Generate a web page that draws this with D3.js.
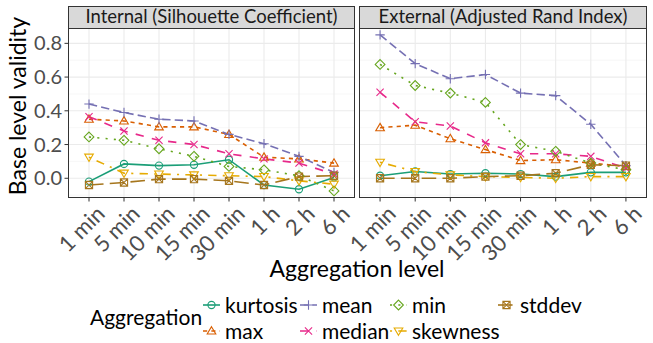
<!DOCTYPE html>
<meta charset="utf-8">
<style>
body { margin: 0; background: #fff; }
text { font-family: Lato, "Open Sans", sans-serif; }
.grid-major { stroke: #EBEBEB; stroke-width: 1.1; }
.grid-minor { stroke: #F2F2F2; stroke-width: 0.6; }
.tick-line { stroke: #333; stroke-width: 1; }
.tick-lab { fill: #4D4D4D; font-size: 20px; }
.xtick-lab { fill: #4D4D4D; font-size: 22px; }
</style>
<svg width="653" height="343"></svg>
<script src="https://cdn.jsdelivr.net/npm/d3@7/dist/d3.min.js"></script>
<script>
var levels = ["1 min", "5 min", "10 min", "15 min", "30 min", "1 h", "2 h", "6 h"];
var panels = ["Internal (Silhouette Coefficient)", "External (Adjusted Rand Index)"];
var series = ["kurtosis", "max", "mean", "median", "min", "skewness", "stddev"];
var colors = ["#1B9E77", "#D95F02", "#7570B3", "#E7298A", "#66A61E", "#E6AB02", "#A6761D"];

// internal (silhouette)
var intKurtosis = [-0.02, 0.085, 0.075, 0.08, 0.11, -0.04, -0.065, 0.005];
var intMax      = [0.35, 0.34, 0.305, 0.305, 0.26, 0.125, 0.115, 0.09];
var intMean     = [0.44, 0.39, 0.35, 0.34, 0.26, 0.205, 0.13, 0.035];
var intMedian   = [0.365, 0.28, 0.225, 0.2, 0.145, 0.115, 0.09, 0.025];
var intMin      = [0.245, 0.225, 0.175, 0.13, 0.07, 0.05, 0.015, -0.075];
var intSkewness = [0.125, 0.03, 0.025, 0.02, 0.015, 0.01, -0.015, -0.035];
var intStddev   = [-0.04, -0.025, -0.005, -0.005, -0.015, -0.04, 0.01, 0.015];

// external (adjusted rand)
var extKurtosis = [0.015, 0.04, 0.025, 0.03, 0.025, 0.01, 0.035, 0.035];
var extMax      = [0.3, 0.315, 0.235, 0.17, 0.105, 0.11, 0.09, 0.07];
var extMean     = [0.85, 0.68, 0.59, 0.615, 0.505, 0.49, 0.32, 0.075];
var extMedian   = [0.51, 0.335, 0.31, 0.21, 0.145, 0.145, 0.13, 0.06];
var extMin      = [0.675, 0.55, 0.505, 0.45, 0.2, 0.16, 0.09, 0.05];
var extSkewness = [0.095, 0.04, 0.02, 0.01, 0.005, 0.0, 0.01, 0.01];
var extStddev   = [0.0, 0.0, 0.0, 0.01, 0.015, 0.03, 0.08, 0.075];

var yTicks = [0, 0.2, 0.4, 0.6, 0.8];
var yMinor = [-0.1, 0.1, 0.3, 0.5, 0.7];

var panelData = [
  [intKurtosis, intMax, intMean, intMedian, intMin, intSkewness, intStddev],
  [extKurtosis, extMax, extMean, extMedian, extMin, extSkewness, extStddev]
];

var lw = 1.6;
var dashes = ["", "22", "42", "44", "13", "1343", "73"].map(function(p) {
  return p === "" ? null : p.split("").map(function(c) { return +c * lw * 1.3; }).join(",");
});

var svg = d3.select("svg");
var pTop = 28, pBottom = 198, stripH = 22;
var panelX = [[68, 355], [359, 647]];

var y = d3.scaleLinear().domain([-0.117, 0.891]).range([pBottom, pTop]);

// shape drawers (ggplot shapes 1..7)
function drawShape(g, k, cx, cy, col) {
  var s = 3.6;
  var st = { stroke: col, "stroke-width": 1.1, fill: "none" };
  function add(tag, attrs) {
    var e = g.append(tag);
    Object.keys(st).forEach(function(a) { e.attr(a, st[a]); });
    Object.keys(attrs).forEach(function(a) { e.attr(a, attrs[a]); });
  }
  if (k === 0) add("circle", { cx: cx, cy: cy, r: s });
  else if (k === 1) add("path", { d: "M" + cx + "," + (cy - s * 1.2) + "L" + (cx + s * 1.2) + "," + (cy + s * 0.85) + "L" + (cx - s * 1.2) + "," + (cy + s * 0.85) + "Z" });
  else if (k === 2) add("path", { d: "M" + (cx - s * 1.3) + "," + cy + "H" + (cx + s * 1.3) + "M" + cx + "," + (cy - s * 1.3) + "V" + (cy + s * 1.3) });
  else if (k === 3) add("path", { d: "M" + (cx - s) + "," + (cy - s) + "L" + (cx + s) + "," + (cy + s) + "M" + (cx - s) + "," + (cy + s) + "L" + (cx + s) + "," + (cy - s) });
  else if (k === 4) add("path", { d: "M" + cx + "," + (cy - s * 1.35) + "L" + (cx + s * 1.35) + "," + cy + "L" + cx + "," + (cy + s * 1.35) + "L" + (cx - s * 1.35) + "," + cy + "Z" });
  else if (k === 5) add("path", { d: "M" + cx + "," + (cy + s * 1.2) + "L" + (cx + s * 1.2) + "," + (cy - s * 0.85) + "L" + (cx - s * 1.2) + "," + (cy - s * 0.85) + "Z" });
  else if (k === 6) add("path", { d: "M" + (cx - s) + "," + (cy - s) + "H" + (cx + s) + "V" + (cy + s) + "H" + (cx - s) + "Z" +
    "M" + (cx - s) + "," + (cy - s) + "L" + (cx + s) + "," + (cy + s) + "M" + (cx - s) + "," + (cy + s) + "L" + (cx + s) + "," + (cy - s) });
}

panels.forEach(function(title, p) {
  var x0 = panelX[p][0], x1 = panelX[p][1];
  var x = d3.scalePoint().domain(levels).range([x0, x1]).padding(0.6);
  var g = svg.append("g");

  // grid
  g.selectAll(".gmin").data(yMinor).enter().append("line").attr("class", "grid-minor")
    .attr("x1", x0).attr("x2", x1).attr("y1", function(d) { return y(d); }).attr("y2", function(d) { return y(d); });
  g.selectAll(".gmaj").data(yTicks).enter().append("line").attr("class", "grid-major")
    .attr("x1", x0).attr("x2", x1).attr("y1", function(d) { return y(d); }).attr("y2", function(d) { return y(d); });
  g.selectAll(".gv").data(levels).enter().append("line").attr("class", "grid-major")
    .attr("x1", function(d) { return x(d); }).attr("x2", function(d) { return x(d); }).attr("y1", pTop).attr("y2", pBottom);

  // lines
  var line = d3.line().x(function(d, i) { return x(levels[i]); }).y(function(d) { return y(d); });
  panelData[p].forEach(function(vals, k) {
    g.append("path").datum(vals).attr("d", line)
      .attr("fill", "none").attr("stroke", colors[k]).attr("stroke-width", lw)
      .attr("stroke-dasharray", dashes[k]);
  });
  // points
  panelData[p].forEach(function(vals, k) {
    vals.forEach(function(v, i) { drawShape(g, k, x(levels[i]), y(v), colors[k]); });
  });

  // border + strip
  g.append("rect").attr("x", x0 + 0.5).attr("y", pTop + 0.5).attr("width", x1 - x0 - 1).attr("height", pBottom - pTop - 1)
    .attr("fill", "none").attr("stroke", "#333").attr("stroke-width", 1);
  g.append("rect").attr("x", x0 + 0.5).attr("y", pTop - stripH + 0.5).attr("width", x1 - x0 - 1).attr("height", stripH)
    .attr("fill", "#D9D9D9").attr("stroke", "#333").attr("stroke-width", 1);
  g.append("text").attr("x", (x0 + x1) / 2).attr("y", pTop - 5).attr("text-anchor", "middle")
    .attr("fill", "#1A1A1A").style("font-size", "18.5px").text(title);

  // x ticks
  g.selectAll(".xt").data(levels).enter().append("line").attr("class", "tick-line")
    .attr("x1", function(d) { return x(d); }).attr("x2", function(d) { return x(d); })
    .attr("y1", pBottom).attr("y2", pBottom + 3.5);
  g.selectAll(".xl").data(levels).enter().append("text").attr("class", "xtick-lab")
    .attr("text-anchor", "end")
    .attr("transform", function(d) { return "translate(" + (x(d) + 6) + "," + (pBottom + 6) + ") rotate(-45)"; })
    .attr("dy", "0.72em")
    .text(function(d) { return d; });
});

// y axis on left panel
var yAxisG = svg.append("g");
yAxisG.selectAll("line").data(yTicks).enter().append("line").attr("class", "tick-line")
  .attr("x1", 64.5).attr("x2", 68).attr("y1", function(d) { return y(d); }).attr("y2", function(d) { return y(d); });
yAxisG.selectAll("text").data(yTicks).enter().append("text").attr("class", "tick-lab")
  .attr("x", 62).attr("y", function(d) { return y(d); }).attr("dy", "0.35em").attr("text-anchor", "end")
  .text(function(d) { return d3.format(".1f")(d); });

// axis titles
svg.append("text").attr("transform", "translate(26," + ((pTop - stripH + pBottom) / 2 + 4) + ") rotate(-90)")
  .attr("text-anchor", "middle").style("font-size", "23px").attr("fill", "#000").text("Base level validity");
svg.append("text").attr("x", 357).attr("y", 277).attr("text-anchor", "middle")
  .style("font-size", "23px").attr("fill", "#000").text("Aggregation level");

// legend
var leg = svg.append("g");
leg.append("text").attr("x", 90).attr("y", 325).style("font-size", "21px").attr("fill", "#000").text("Aggregation");
var colX = [203, 300, 390, 498];
var rowY = [305, 331];
series.forEach(function(name, k) {
  var c = Math.floor(k / 2), r = k % 2;
  var kx = colX[c], ky = rowY[r];
  leg.append("line").attr("x1", kx).attr("x2", kx + 17).attr("y1", ky).attr("y2", ky)
    .attr("stroke", colors[k]).attr("stroke-width", lw).attr("stroke-dasharray", dashes[k]);
  drawShape(leg, k, kx + 8.5, ky, colors[k]);
  leg.append("text").attr("x", kx + 22).attr("y", ky + 8).style("font-size", "21px").attr("fill", "#000").text(name);
});
</script>
